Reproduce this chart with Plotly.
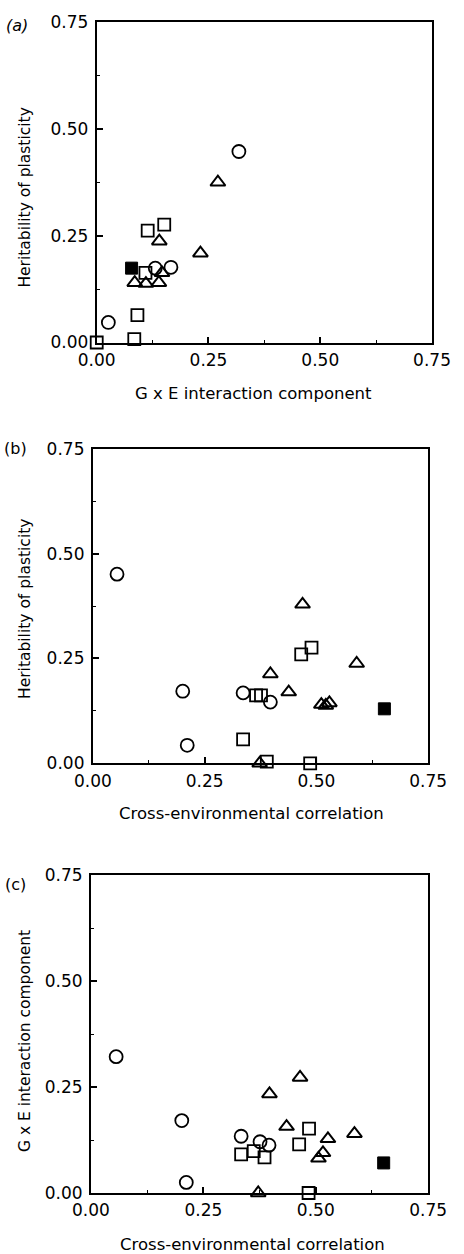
import plotly.graph_objects as go

# ---------------- data ----------------
# Panel (a): x = GxE interaction component, y = heritability of plasticity
a_circ_x = [0.318, 0.131, 0.166, 0.026]
a_circ_y = [0.447, 0.174, 0.176, 0.047]
a_tri_x = [0.271, 0.140, 0.232, 0.146, 0.085, 0.110, 0.139]
a_tri_y = [0.375, 0.237, 0.209, 0.163, 0.140, 0.138, 0.140]
a_sq_x = [0.114, 0.151, 0.109, 0.091, 0.000, 0.084]
a_sq_y = [0.262, 0.276, 0.163, 0.064, 0.000, 0.008]
a_fill_x = [0.078]
a_fill_y = [0.174]

# Panel (b): x = cross-environmental correlation, y = heritability of plasticity
b_circ_x = [0.054, 0.201, 0.211, 0.336, 0.397]
b_circ_y = [0.451, 0.172, 0.043, 0.168, 0.146]
b_tri_x = [0.469, 0.397, 0.438, 0.511, 0.521, 0.529, 0.590, 0.373]
b_tri_y = [0.379, 0.213, 0.170, 0.140, 0.138, 0.144, 0.238, 0.000]
b_sq_x = [0.466, 0.489, 0.365, 0.376, 0.336, 0.389, 0.486]
b_sq_y = [0.260, 0.276, 0.162, 0.162, 0.057, 0.004, 0.000]
b_fill_x = [0.652]
b_fill_y = [0.130]

# Panel (c): x = cross-environmental correlation, y = GxE interaction component
c_circ_x = [0.056, 0.202, 0.212, 0.334, 0.376, 0.396]
c_circ_y = [0.322, 0.171, 0.025, 0.134, 0.121, 0.113]
c_tri_x = [0.397, 0.465, 0.435, 0.527, 0.516, 0.506, 0.586, 0.372]
c_tri_y = [0.234, 0.273, 0.157, 0.128, 0.095, 0.082, 0.140, 0.000]
c_sq_x = [0.334, 0.362, 0.386, 0.485, 0.463, 0.484]
c_sq_y = [0.091, 0.099, 0.084, 0.152, 0.115, 0.000]
c_fill_x = [0.651]
c_fill_y = [0.071]

tick_vals = [0.0, 0.25, 0.5, 0.75]
tick_text = ["0.00", "0.25", "0.50", "0.75"]

panel_labels = ["<i>(a)</i>", "(b)", "(c)"]
x_titles = ["G x E interaction component", "Cross-environmental correlation",
            "Cross-environmental correlation"]
y_titles = ["Heritability of plasticity", "Heritability of plasticity",
            "G x E interaction component"]

# ---------------- figure ----------------
fig = go.Figure()

panels = [
    (a_circ_x, a_circ_y, a_tri_x, a_tri_y, a_sq_x, a_sq_y, a_fill_x, a_fill_y),
    (b_circ_x, b_circ_y, b_tri_x, b_tri_y, b_sq_x, b_sq_y, b_fill_x, b_fill_y),
    (c_circ_x, c_circ_y, c_tri_x, c_tri_y, c_sq_x, c_sq_y, c_fill_x, c_fill_y),
]

for i, (cx, cy, tx, ty, sx, sy, fx, fy) in enumerate(panels):
    xa = "x" if i == 0 else f"x{i+1}"
    ya = "y" if i == 0 else f"y{i+1}"
    common = dict(mode="markers", xaxis=xa, yaxis=ya, showlegend=False,
                  cliponaxis=False, hoverinfo="x+y")
    fig.add_trace(go.Scatter(x=cx, y=cy, marker=dict(symbol="circle-open", size=13,
                  color="black", line=dict(width=1.8)), **common))
    fig.add_trace(go.Scatter(x=tx, y=ty, marker=dict(symbol="triangle-up-open", size=13,
                  color="black", line=dict(width=2)), **common))
    fig.add_trace(go.Scatter(x=sx, y=sy, marker=dict(symbol="square-open", size=12,
                  color="black", line=dict(width=1.8)), **common))
    fig.add_trace(go.Scatter(x=fx, y=fy, marker=dict(symbol="square", size=12,
                  color="black", line=dict(width=1, color="black")), **common))

x_domains = [[0.0196, 0.9972], [0.0084, 0.9860], [0.0028, 0.9860]]
y_domains = [[0.7263, 1.0], [0.3669, 0.6356], [0.0, 0.2712]]

font_family = "DejaVu Sans"
axis_common = dict(
    range=[0, 0.75], tickvals=tick_vals, ticktext=tick_text,
    ticks="inside", ticklen=6, tickwidth=1.5, tickcolor="black",
    showline=True, linecolor="black", linewidth=2, mirror=True,
    showgrid=False, zeroline=False,
    tickfont=dict(family=font_family, size=17, color="black"),
    minor=dict(tickvals=[0.125, 0.375, 0.625], ticks="inside", ticklen=3,
               tickwidth=1.2, tickcolor="black"),
    fixedrange=True,
)

layout = dict(
    width=464, height=1254,
    margin=dict(l=90, r=16, t=13, b=61),
    paper_bgcolor="white", plot_bgcolor="white",
    font=dict(family=font_family, color="black"),
)
for i in range(3):
    xk = "xaxis" if i == 0 else f"xaxis{i+1}"
    yk = "yaxis" if i == 0 else f"yaxis{i+1}"
    xa = "x" if i == 0 else f"x{i+1}"
    ya = "y" if i == 0 else f"y{i+1}"
    layout[xk] = dict(axis_common, domain=x_domains[i], anchor=ya, ticklabelstandoff=1)
    layout[yk] = dict(axis_common, domain=y_domains[i], anchor=xa, ticklabelstandoff=3)

fig.update_layout(**layout)

# axis titles and panel labels as annotations
x_title_pos = [(0.469, -0.158), (0.474, -0.158), (0.48, -0.163)]
y_title_pos = [(-0.214, 0.452), (-0.203, 0.49), (-0.196, 0.478)]
label_pos = [(-0.237, 0.99), (-0.231, 1.0), (-0.225, 0.97)]

annotations = []
for i in range(3):
    xd = "x domain" if i == 0 else f"x{i+1} domain"
    yd = "y domain" if i == 0 else f"y{i+1} domain"
    annotations.append(dict(text=x_titles[i], xref=xd, yref=yd,
                            x=x_title_pos[i][0], y=x_title_pos[i][1],
                            showarrow=False, xanchor="center", yanchor="middle",
                            font=dict(family=font_family, size=16.5, color="black")))
    annotations.append(dict(text=y_titles[i], xref=xd, yref=yd,
                            x=y_title_pos[i][0], y=y_title_pos[i][1], textangle=-90,
                            showarrow=False, xanchor="center", yanchor="middle",
                            font=dict(family=font_family, size=15.5, color="black")))
    annotations.append(dict(text=panel_labels[i], xref=xd, yref=yd,
                            x=label_pos[i][0], y=label_pos[i][1],
                            showarrow=False, xanchor="center", yanchor="middle",
                            font=dict(family=font_family, size=16, color="black")))
fig.update_layout(annotations=annotations)

fig.write_html("out.html")
